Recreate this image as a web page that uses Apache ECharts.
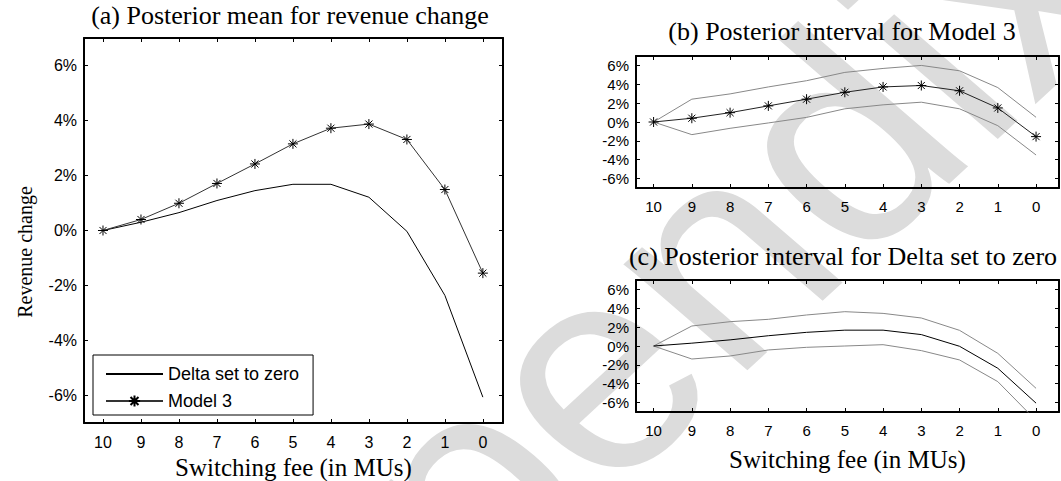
<!DOCTYPE html>
<html>
<head>
<meta charset="utf-8">
<script src="https://cdn.jsdelivr.net/npm/echarts@6/dist/echarts.min.js"></script>
<style>
  html, body { margin: 0; padding: 0; background: #fff; }
  #chart { width: 1061px; height: 481px; }
</style>
</head>
<body>
<div id="chart"></div>
<script>
// Switching fee levels (in MUs), plotted from 10 down to 0
const fees = [10, 9, 8, 7, 6, 5, 4, 3, 2, 1, 0];
// Revenue-change tick values (%)
const yTicks = [-6, -4, -2, 0, 2, 4, 6];

// Posterior means of revenue change (%)
const model3Mean     = [0, 0.40, 0.99, 1.71, 2.42, 3.15, 3.72, 3.87, 3.31, 1.49, -1.55];
const deltaZeroMean  = [0, 0.30, 0.65, 1.09, 1.45, 1.68, 1.68, 1.21, -0.03, -2.36, -6.06];

// Posterior interval bounds (%)
const model3Upper    = [0, 2.42, 2.98, 3.72, 4.38, 5.26, 5.68, 6.00, 5.43, 3.65, 0.50];
const model3Lower    = [0, -1.34, -0.67, -0.10, 0.49, 1.40, 1.82, 2.10, 1.40, -0.39, -3.50];
const deltaZeroUpper = [0, 2.12, 2.58, 2.83, 3.29, 3.64, 3.46, 2.97, 1.66, -0.78, -4.49];
const deltaZeroLower = [0, -1.38, -1.06, -0.42, -0.14, 0.00, 0.14, -0.49, -1.48, -3.78, -7.90];

const SERIF = '"Liberation Serif", "Times New Roman", serif';
const SANS = '"Liberation Sans", Arial, sans-serif';
const STAR = 'path://M5 0L5 10M0 5L10 5M1.46 1.46L8.54 8.54M1.46 8.54L8.54 1.46';

const pairs = vals => fees.map((f, i) => [f, vals[i]]);

function xAxes(gi, min, max, labelSize, labelMargin, name, nameGap) {
  const base = {
    type: 'value', gridIndex: gi, min: min, max: max, inverse: true,
    axisLine: { show: true, onZero: false, lineStyle: { color: '#000', width: 2 } },
    axisTick: { show: true, inside: true, length: 4, customValues: fees, lineStyle: { color: '#000', width: 1 } },
    splitLine: { show: false }
  };
  const bottom = Object.assign({}, base, {
    position: 'bottom',
    axisLabel: { show: true, customValues: fees, margin: labelMargin, fontFamily: SANS, fontSize: labelSize, color: '#000' }
  });
  if (name) {
    Object.assign(bottom, {
      name: name, nameLocation: 'middle', nameGap: nameGap,
      nameTextStyle: { fontFamily: SERIF, fontSize: 25, color: '#000' }
    });
  }
  const top = Object.assign({}, base, { position: 'top', axisLabel: { show: false } });
  return [bottom, top];
}

function yAxes(gi, labelSize) {
  const base = {
    type: 'value', gridIndex: gi, min: -7, max: 7,
    axisLine: { show: true, onZero: false, lineStyle: { color: '#000', width: 2 } },
    axisTick: { show: true, inside: true, length: 4, customValues: yTicks, lineStyle: { color: '#000', width: 1 } },
    splitLine: { show: false }
  };
  const left = Object.assign({}, base, {
    position: 'left',
    axisLabel: { show: true, customValues: yTicks, formatter: '{value}%', margin: 7, fontFamily: SANS, fontSize: labelSize, color: '#000' }
  });
  const right = Object.assign({}, base, { position: 'right', axisLabel: { show: false } });
  return [left, right];
}

function line(name, xi, data, color, withStars) {
  return {
    name: name, type: 'line', xAxisIndex: xi, yAxisIndex: xi,
    data: pairs(data), clip: true,
    symbol: withStars ? STAR : 'none', symbolSize: 10, showSymbol: !!withStars,
    lineStyle: { color: color, width: 1 },
    itemStyle: { color: '#000', borderColor: '#000', borderWidth: 1 },
    emphasis: { disabled: true }, z: 3
  };
}

const titleStyle = { fontFamily: SERIF, fontSize: 26, fontWeight: 'normal', color: '#000' };

const chart = echarts.init(document.getElementById('chart'), null, { renderer: 'svg' });
chart.setOption({
  animation: false,
  backgroundColor: '#fff',
  title: [
    { text: '(a) Posterior mean for revenue change', left: 290, top: 2, textAlign: 'center', padding: 0, textStyle: titleStyle },
    { text: '(b) Posterior interval for Model 3', left: 842, top: 18, textAlign: 'center', padding: 0, textStyle: titleStyle },
    { text: '(c) Posterior interval for Delta set to zero', left: 843, top: 243, textAlign: 'center', padding: 0, textStyle: titleStyle }
  ],
  graphic: [
    {
      // light diagonal watermark behind the plots
      type: 'group', x: 594, y: 367, scaleX: 1.12, z: -10, silent: true,
      children: [{
        type: 'text', rotation: 46 * Math.PI / 180,
        style: { text: 'Appendix', fontFamily: SANS, fontSize: 290, fill: '#dcdcdc', textAlign: 'center', textVerticalAlign: 'middle' }
      }]
    },
    {
      // y-axis title of panel (a)
      type: 'text', x: 25, y: 252, rotation: Math.PI / 2, silent: true,
      style: { text: 'Revenue change', fontFamily: SERIF, fontSize: 20, fill: '#000', textAlign: 'center', textVerticalAlign: 'middle' }
    }
  ],
  legend: {
    left: 93, top: 355, orient: 'vertical', selectedMode: false,
    data: [
      // plain line sample: hide the marker the legend would otherwise add
      { name: 'Delta set to zero', itemStyle: { color: 'transparent', borderColor: 'transparent', borderWidth: 0 } },
      'Model 3'
    ],
    borderColor: '#000', borderWidth: 1, backgroundColor: '#fff',
    padding: [10, 14, 5, 12], itemWidth: 57, itemHeight: 14, itemGap: 9,
    textStyle: { fontFamily: SANS, fontSize: 18, color: '#000' }
  },
  grid: [
    { left: 84, top: 38, width: 419, height: 385, outerBoundsMode: 'none' },
    { left: 636, top: 56, width: 423, height: 132, outerBoundsMode: 'none' },
    { left: 636, top: 280, width: 423, height: 132, outerBoundsMode: 'none' }
  ],
  xAxis: [].concat(
    xAxes(0, -0.53, 10.5, 16, 11, 'Switching fee (in MUs)', 31),
    xAxes(1, -0.6, 10.46, 15, 11),
    xAxes(2, -0.6, 10.46, 15, 11, 'Switching fee (in MUs)', 35)
  ),
  yAxis: [].concat(
    yAxes(0, 16),
    yAxes(1, 15),
    yAxes(2, 15)
  ),
  series: [
    line('Delta set to zero', 0, deltaZeroMean, '#000', false),
    line('Model 3', 0, model3Mean, '#333', true),
    line('Model 3 upper', 2, model3Upper, '#888', false),
    line('Model 3 lower', 2, model3Lower, '#888', false),
    line('Model 3 mean', 2, model3Mean, '#222', true),
    line('Delta upper', 4, deltaZeroUpper, '#888', false),
    line('Delta lower', 4, deltaZeroLower, '#888', false),
    line('Delta mean', 4, deltaZeroMean, '#000', false)
  ]
});
</script>
</body>
</html>
